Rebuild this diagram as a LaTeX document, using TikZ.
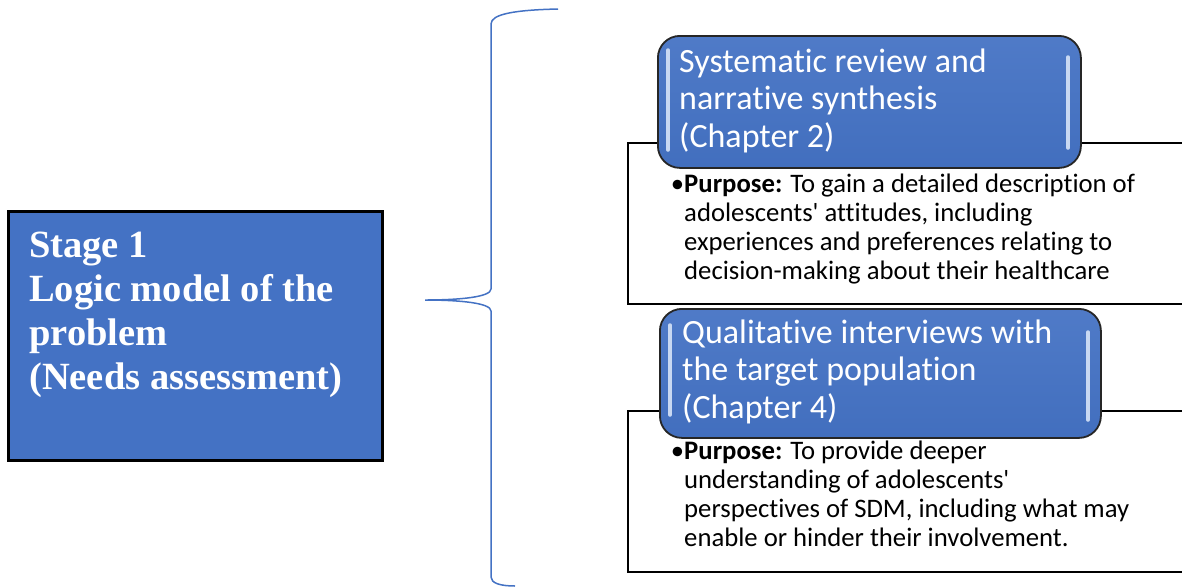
\documentclass[tikz,border=0pt]{standalone}
\usepackage{fontspec}
\newfontfamily\calfont{Carlito}[Ligatures=NoCommon]
\newfontfamily\serfont{Liberation Serif}
\definecolor{blu}{HTML}{4472C4}
\definecolor{glossc}{HTML}{C8D8F2}
\begin{document}
\begin{tikzpicture}[x=1pt,y=-1pt,
  stagebox/.style={draw=black, line width=2.5pt, fill=blu, minimum width=374pt, minimum height=249pt, inner sep=0pt, anchor=north west},
  whitebox/.style={draw=black, line width=1.5pt, fill=white, minimum width=600pt, minimum height=161pt, inner sep=0pt, anchor=north west},
  bluebox/.style={draw=black!85, line width=1.8pt, rounded corners=22pt, top color=blu!94!white, bottom color=blu!97!black, inner sep=0pt, anchor=north west},
  titletext/.style={text=white, font=\calfont\fontsize{34}{37.5}\selectfont, anchor=base west, inner sep=0pt},
  bodytext/.style={text=black, font=\calfont\fontsize{26.7}{29.2}\selectfont, anchor=base west, inner sep=0pt},
  stagetext/.style={text=white, font=\serfont\bfseries\fontsize{38.5}{44}\selectfont, anchor=base west, inner sep=0pt},
  gloss/.style={draw=glossc, line width=3.5pt, line cap=round},
  bracestyle/.style={draw=blu, line width=1.5pt}
]
\useasboundingbox (0,0) rectangle (1182,587);
\fill[white] (0,0) rectangle (1182,587);

% left stage box
\node[stagebox] (stage) at (7,210) {};
\node[stagetext] (stagelbl) at (29,257) {\vtop{\hbox{Stage 1}\hbox{Logic model of the}\hbox{problem}\hbox{(Needs assessment)}}};

% brace
\coordinate (btop) at (558,9);
\coordinate (btip) at (425,300);
\coordinate (bbot) at (515,586);
\draw[bracestyle] (btop) .. controls (515,10) and (491,14) .. (491,24)
  -- (491,289) .. controls (491,297) and (460,300) .. (btip)
  .. controls (460,300) and (491,303) .. (491,311)
  -- (491,577) .. controls (491,583) and (500,586) .. (bbot);

% white purpose boxes
\begin{scope}
\clip (0,0) rectangle (1182,587);
\node[whitebox] (w1) at (627,142) {};
\node[whitebox] (w2) at (627,410) {};
\end{scope}

% first blue title box
\node[bluebox, minimum width=423pt, minimum height=132pt] (b1) at (657,35) {};
\draw[gloss] (668,50) -- (668,150);
\draw[gloss] (1068,57) -- (1068,148);
\node[titletext] (b1lbl) at (679,72) {\vtop{\hbox{Systematic review and}\hbox{narrative synthesis}\hbox{(Chapter 2)}}};
\node[bodytext] (w1lbl) at (684,192) {\vtop{\hbox{\llap{•}\textbf{Purpose:} To gain a detailed description of}\hbox{adolescents' attitudes, including}\hbox{experiences and preferences relating to}\hbox{decision-making about their healthcare}}};

% second blue title box
\node[bluebox, minimum width=441pt, minimum height=129pt] (b2) at (659,308) {};
\draw[gloss] (670,325) -- (670,415);
\draw[gloss] (1088,332) -- (1088,420);
\node[titletext] (b2lbl) at (682,343) {\vtop{\hbox{Qualitative interviews with}\hbox{the target population}\hbox{(Chapter 4)}}};
\node[bodytext] (w2lbl) at (684,459) {\vtop{\hbox{\llap{•}\textbf{Purpose:} To provide deeper}\hbox{understanding of adolescents'}\hbox{perspectives of SDM, including what may}\hbox{enable or hinder their involvement.}}};
\end{tikzpicture}
\end{document}
